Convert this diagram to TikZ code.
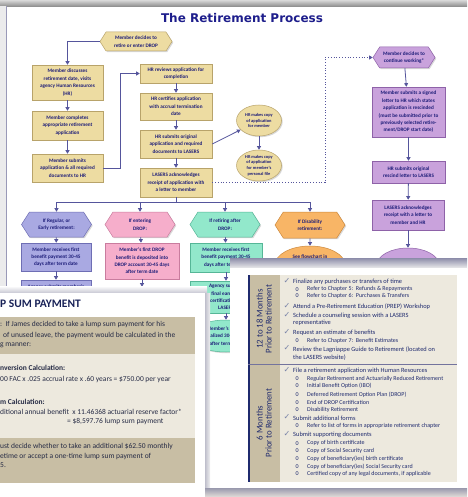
\documentclass[tikz,border=0pt]{standalone}
\usepackage{fontspec}
\setmainfont{Carlito}
\newfontfamily\headfont{DejaVu Sans}
\usetikzlibrary{arrows.meta,shapes.geometric,shapes.symbols,shadows}

\definecolor{tanfill}{HTML}{EDDCA2}
\definecolor{tanedge}{HTML}{B8A36A}
\definecolor{lilfill}{HTML}{C9A2DC}
\definecolor{liledge}{HTML}{8E62A8}
\definecolor{perifill}{HTML}{A9A9E2}
\definecolor{periedge}{HTML}{6E6EB4}
\definecolor{pinkfill}{HTML}{F6AECB}
\definecolor{pinkedge}{HTML}{C97C9E}
\definecolor{mintfill}{HTML}{92E8CB}
\definecolor{mintedge}{HTML}{56B697}
\definecolor{orfill}{HTML}{F8B566}
\definecolor{oredge}{HTML}{CC883C}
\definecolor{flowtext}{HTML}{1C1C78}
\definecolor{flowline}{HTML}{55559C}
\definecolor{navy}{HTML}{1F2A6E}
\definecolor{titleblue}{HTML}{1E1E8C}
\definecolor{cardtext}{HTML}{262B45}
\definecolor{beigedark}{HTML}{C8BEA4}
\definecolor{beigelight}{HTML}{EDE9DE}
\definecolor{checkblue}{HTML}{7A84A8}

\tikzset{
  flowbox/.style={draw=#1edge, fill=#1fill, line width=0.5pt, rectangle, minimum width=71pt,
    align=center, inner sep=0.5pt, text=flowtext, font=\fontsize{5.2}{7.4}\selectfont\bfseries,
    drop shadow={opacity=0.3,shadow xshift=1.2pt,shadow yshift=-1.2pt}},
  flowhex/.style={flowbox=#1, signal, signal to=east and west, signal pointer angle=115},
  flowoval/.style={flowbox=#1, ellipse},
  conn/.style={draw=flowline, line width=0.8pt, -{Triangle[length=3.6pt,width=4pt]}},
  busline/.style={draw=flowline, line width=0.8pt},
  dotline/.style={draw=flowline, line width=0.8pt, dotted, -{Triangle[length=3.6pt,width=4pt]}},
  lumptext/.style={anchor=west, inner sep=0pt, text=cardtext, font=\fontsize{7.5}{9}\selectfont},
  chktext/.style={anchor=west, inner sep=0pt, text=navy, font=\fontsize{6.4}{7}\selectfont},
  subtext/.style={chktext, font=\fontsize{6}{7}\selectfont},
  chkmark/.style={anchor=west, inner sep=0pt, text=checkblue, font=\headfont\fontsize{8}{8}\selectfont},
}

\begin{document}
\begin{tikzpicture}[x=1pt,y=-1pt]
			%%%%% START %%%%%
			\useasboundingbox (0,0) rectangle (467,497);
			\fill[white] (0,0) rectangle (467,497);
			
			% page frame
			\shade[top color=black!15, bottom color=black!45] (0,0) rectangle (467,6.5);
			\fill[blue!6!black!8] (0,6.5) rectangle (6,497);
			\draw[line width=1pt, color=blue!30!black!40] (6,6.5) -- (6,497);
			
			\node[font=\headfont\bfseries\fontsize{12}{13}\selectfont, text=titleblue] (title) at (242,18) {The Retirement Process};
			
			% first column
			\node[flowhex=tan, minimum width=72pt, minimum height=19pt] (hex0) at (136,41.5) {Member decides to\\retire or enter DROP};
			\node[flowbox=tan, minimum height=35pt] (b1) at (67.5,82.5) {Member discusses\\retirement date, visits\\agency Human Resources\\(HR)};
			\node[flowbox=tan, minimum height=29pt] (b2) at (67.5,125.5) {Member completes\\appropriate retirement\\application};
			\node[flowbox=tan, minimum height=28pt] (b3) at (67.5,168) {Member submits\\application \& all required\\documents to HR};
			
			% second column
			\node[flowbox=tan, minimum width=72pt, minimum height=19pt] (c1) at (176,73.5) {HR reviews application for\\completion};
			\node[flowbox=tan, minimum width=72pt, minimum height=27pt] (c2) at (176,106.5) {HR certifies application\\with accrual termination\\date};
			\node[flowbox=tan, minimum width=72pt, minimum height=28pt] (c3) at (176,144) {HR submits original\\application and required\\documents to LASERS};
			\node[flowbox=tan, minimum width=72pt, minimum height=29pt] (c4) at (176,182.5) {LASERS acknowledges\\receipt of application with\\a letter to member};
			
			\node[flowoval=tan, minimum width=45pt, minimum height=31pt, inner sep=0pt, font=\fontsize{4.4}{5.6}\selectfont\bfseries] (e1) at (259,120.5) {HR makes copy\\of application\\for member};
			\node[flowoval=tan, minimum width=45pt, minimum height=31pt, inner sep=0pt, font=\fontsize{4.4}{5.6}\selectfont\bfseries] (e2) at (259,165.5) {HR makes copy\\of application\\for member's\\personal file};
			
			% rescind column
			\node[flowhex=lil, minimum width=62pt, minimum height=21pt] (p0) at (404,57.5) {Member decides to\\continue working*};
			\node[flowbox=lil, minimum width=73pt, minimum height=50pt] (p1) at (408.5,112) {Member submits a signed\\letter to HR which states\\application is rescinded\\(must be submitted prior to\\previously selected retire-\\ment/DROP start date)};
			\node[flowbox=lil, minimum width=73pt, minimum height=22pt] (p2) at (408.5,172) {HR submits original\\rescind letter to LASERS};
			\node[flowbox=lil, minimum width=72pt, minimum height=30pt] (p3) at (408,215) {LASERS acknowledges\\receipt with a letter to\\member and HR};
			\node[flowoval=lil, minimum width=62pt, minimum height=34pt] (p4) at (408,265) {LASERS sends};
			
			% retirement types
			\node[flowhex=peri, minimum width=70pt, minimum height=25pt] (h1) at (56.5,224.5) {If Regular, or\\Early retirement:};
			\node[flowhex=pink, minimum width=70pt, minimum height=25pt] (h2) at (140,224.5) {If entering\\DROP:};
			\node[flowhex=mint, minimum width=70pt, minimum height=25pt] (h3) at (225,224.5) {If retiring after\\DROP:};
			\node[flowhex=or, minimum width=70pt, minimum height=26pt] (h4) at (310,225) {If Disability\\retirement:};
			
			\node[flowbox=peri, minimum width=70pt, minimum height=28pt] (bx1) at (56,257) {Member receives first\\benefit payment 30-45\\days after term date};
			\node[flowbox=pink, minimum width=74pt, minimum height=36pt] (bx2) at (142,261) {Member's first DROP\\benefit is deposited into\\DROP account 30-45 days\\after term date};
			\node[flowbox=mint, minimum width=72pt, minimum height=29pt] (bx3) at (226,257.5) {Member receives first\\benefit payment 30-45\\days after term date};
			\node[flowoval=or, minimum width=70pt, minimum height=38pt] (el4) at (310,265) {See flowchart in\\Chapter 11 of this\\\strut};
			
			\node[flowbox=peri, minimum width=70pt, minimum height=14pt] (bx4) at (56,287) {Agency submits member's};
			\node[flowbox=pink, minimum width=74pt, minimum height=12pt] (bx5) at (142,293) {};
			\node[flowbox=mint, minimum width=72pt, minimum height=32pt] (bx6) at (226,297) {Agency submits\\final earnings\\certification to\\LASERS};
			\node[flowoval=mint, minimum width=72pt, minimum height=32pt] (el6) at (226,336) {Member's benefit\\finalized 30-45 days\\after term date};
			
			% connectors
			\coordinate (bus) at (176,202);
			\coordinate (dotturn) at (325,57.5);
			\draw[conn] (hex0.west) -| (b1.north);
			\draw[conn] (b1) -- (b2);
			\draw[conn] (b2) -- (b3);
			\draw[conn] (b3.east) -- ++(17,0) |- (c1.west);
			\draw[conn] (c1) -- (c2);
			\draw[conn] (c2) -- (c3);
			\draw[conn] (c3) -- (c4);
			\draw[conn] (c3.east) -- (e1);
			\draw[conn] (e1) -- (e2);
			\draw[dotline] (c4.east) -| (dotturn) -- (p0.west);
			\draw[conn] (p0) -- (p1);
			\draw[conn] (p1) -- (p2);
			\draw[conn] (p2) -- (p3);
			\draw[conn] (p3) -- (p4);
			\draw[busline] (c4.south) -- (bus);
			\draw[busline] (h1.north |- bus) -- (h4.north |- bus);
			\foreach \h in {h1,h2,h3,h4}
			  \draw[conn] (\h.north |- bus) -- (\h.north);
			\draw[conn] (h1) -- (bx1);
			\draw[conn] (h2) -- (bx2);
			\draw[conn] (h3) -- (bx3);
			\draw[conn] (h4) -- (el4);
			\draw[conn] (bx1) -- (bx4);
			\draw[conn] (bx2) -- (bx5);
			\draw[conn] (bx3) -- (bx6);
			\draw[conn] (bx6) -- (el6);
			
			% lump sum card
			\shade[top color=white, bottom color=blue!20!black!22] (0,286) rectangle (207,293);
			\fill[white] (0,293) rectangle (205,497);
			\shade[left color=blue!20!black!25, right color=blue!5!black!6] (205,293) rectangle (210,497);
			\node[anchor=west, inner sep=0pt, text=navy!80!black, font=\bfseries\fontsize{11.5}{12}\selectfont] (lumphead) at (0,304) {P SUM PAYMENT};
			\fill[beigedark] (0,317) rectangle (195,354);
			\fill[beigelight] (0,354) rectangle (195,438);
			\fill[beigedark] (0,438) rectangle (195,483);
			\node[lumptext] (la) at (0,324) {:\ \ If James decided to take a lump sum payment for his};
			\node[lumptext] (lb) at (3,335) {of unused leave, the payment would be calculated in the};
			\node[lumptext] (lc) at (0,345) {g manner:};
			\node[lumptext, font=\bfseries\fontsize{7.5}{9}\selectfont] (ld) at (0,368) {nversion Calculation:};
			\node[lumptext] (le) at (0,379) {00 FAC x .025 accrual rate x .60 years = \$750.00 per year};
			\node[lumptext, font=\bfseries\fontsize{7.5}{9}\selectfont] (lf) at (0,402) {m Calculation:};
			\node[lumptext] (lg) at (0,412) {ditional annual benefit\ \ x 11.46368 actuarial reserve factor*};
			\node[lumptext] (lh) at (67,421) {= \$8,597.76 lump sum payment};
			\node[lumptext] (li) at (0,446) {ust decide whether to take an additional \$62.50 monthly};
			\node[lumptext] (lj) at (0,456) {etime or accept a one-time lump sum payment of};
			\node[lumptext] (lk) at (0,465) {5.};
			
			% checklist card
			\shade[top color=blue!25!black!45, bottom color=blue!4!black!8] (230,258) rectangle (467,268);
			\fill[white] (230,268) rectangle (467,488);
			\shade[top color=blue!20!black!40, bottom color=orange!25!black!15] (205,488) rectangle (467,497);
			\fill[beigelight] (248,275) rectangle (457,482);
			\fill[beigedark] (250,275) rectangle (280,482);
			\draw[line width=2pt, color=navy] (249,275) -- (249,482);
			\draw[line width=1pt, color=blue!30!black!55] (248,364) -- (457,364);
			\node[rotate=90, align=center, text=navy, font=\fontsize{8.8}{9}\selectfont] (lbla) at (264,319) {12 to 18 Months\\Prior to Retirement};
			\node[rotate=90, align=center, text=navy, font=\fontsize{8.8}{9}\selectfont] (lblb) at (264,423) {6 Months\\Prior to Retirement};
			
			\foreach \y/\t [count=\i] in {282/Finalize any purchases or transfers of time,
			    306.7/Attend a Pre-Retirement Education (PREP) Workshop,
			    316/Schedule a counseling session with a LASERS,
			    332.7/Request an estimate of benefits,
			    349.3/Review the Lagniappe Guide to Retirement (located on,
			    370.7/File a retirement application with Human Resources,
			    418.3/Submit additional forms,
			    435/Submit supporting documents}
			{
			  \node[chkmark] (mark\i) at (283.5,\y-1.2) {✓};
			  \node[chktext] (item\i) at (293,\y) {\t};
			}
			\node[chktext] (wrapa) at (293,323) {representative};
			\node[chktext] (wrapb) at (293,357.7) {the LASERS website)};
			
			\foreach \y/\t [count=\i] in {289.3/Refer to Chapter 5:\ \ Refunds \& Repayments,
			    296/Refer to Chapter 6:\ \ Purchases \& Transfers,
			    340.7/Refer to Chapter 7:\ \ Benefit Estimates,
			    378.7/Regular Retirement and Actuarially Reduced Retirement,
			    386/Initial Benefit Option (IBO),
			    394.3/Deferred Retirement Option Plan (DROP),
			    402.3/End of DROP Certification,
			    409.7/Disability Retirement,
			    426/Refer to list of forms in appropriate retirement chapter,
			    443.3/Copy of birth certificate,
			    451/Copy of Social Security card,
			    459/Copy of beneficiary(ies) birth certificate,
			    466.7/Copy of beneficiary(ies) Social Security card,
			    474/{Certified copy of any legal documents, if applicable}}
			{
			  \node[subtext] (bul\i) at (295.5,\y) {0};
			  \node[subtext] (sub\i) at (307,\y) {\t};
			}
			%%%%% END %%%%%
\end{tikzpicture}
\end{document}
